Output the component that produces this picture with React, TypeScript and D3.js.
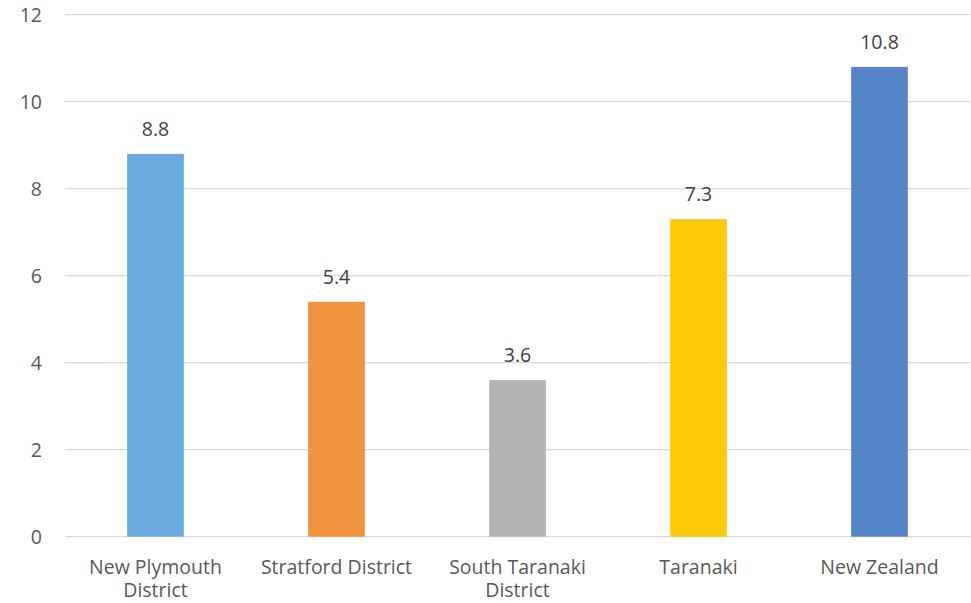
import React, { useEffect, useRef } from 'react';
import * as d3 from 'd3';

// chart data
const categories = [
  'New Plymouth District',
  'Stratford District',
  'South Taranaki District',
  'Taranaki',
  'New Zealand',
];
const values = [8.8, 5.4, 3.6, 7.3, 10.8];
const barColors = ['#6AAADE', '#F39340', '#B3B3B3', '#FEC80B', '#5585C6'];
const yTicks = [0, 2, 4, 6, 8, 10, 12];

const width = 971;
const height = 603;
const margin = { top: 14.7, right: 1, bottom: 66.3, left: 65 };
const font = '"Open Sans", sans-serif';
const textColor = '#595959';

const App = () => {
  const ref = useRef<SVGSVGElement>(null);

  useEffect(() => {
    const svg = d3.select(ref.current);
    svg.selectAll('*').remove();

    const x = d3.scaleBand()
      .domain(categories)
      .range([margin.left, width - margin.right])
      .paddingInner(0.687)
      .paddingOuter(0.3435);

    const y = d3.scaleLinear()
      .domain([0, 12])
      .range([height - margin.bottom, margin.top]);

    // gridlines
    svg.append('g')
      .selectAll('line')
      .data(yTicks)
      .enter().append('line')
      .attr('x1', margin.left)
      .attr('x2', width - margin.right)
      .attr('y1', d => y(d))
      .attr('y2', d => y(d))
      .attr('stroke', '#D9D9D9')
      .attr('stroke-width', 1.3);

    // y tick labels
    svg.append('g')
      .selectAll('text')
      .data(yTicks)
      .enter().append('text')
      .attr('x', 42)
      .attr('y', d => y(d))
      .attr('dy', '0.36em')
      .attr('text-anchor', 'end')
      .style('font-family', font)
      .style('font-size', '19.5px')
      .style('fill', textColor)
      .text(d => d);

    // bars
    svg.append('g')
      .selectAll('rect')
      .data(values)
      .enter().append('rect')
      .attr('x', (d, i) => x(categories[i])!)
      .attr('width', x.bandwidth())
      .attr('y', d => y(d))
      .attr('height', d => y(0) - y(d))
      .attr('fill', (d, i) => barColors[i]);

    // value labels
    svg.append('g')
      .selectAll('text')
      .data(values)
      .enter().append('text')
      .attr('x', (d, i) => x(categories[i])! + x.bandwidth() / 2)
      .attr('y', d => y(d) - 18)
      .attr('text-anchor', 'middle')
      .style('font-family', font)
      .style('font-size', '19.5px')
      .style('fill', '#404040')
      .text(d => d.toFixed(1));

    // category labels, wrapped to the band step
    const maxW = x.step() - 8;
    const labels = svg.append('g')
      .selectAll('text')
      .data(categories)
      .enter().append('text')
      .attr('x', d => x(d)! + x.bandwidth() / 2)
      .attr('y', height - margin.bottom + 37)
      .attr('text-anchor', 'middle')
      .style('font-family', font)
      .style('font-size', '19.5px')
      .style('fill', textColor);

    labels.each(function (d) {
      const text = d3.select(this);
      const words = d.split(' ');
      let line: string[] = [];
      let tspan = text.append('tspan').attr('x', text.attr('x')).attr('dy', 0);
      words.forEach(w => {
        line.push(w);
        tspan.text(line.join(' '));
        if ((tspan.node() as SVGTSpanElement).getComputedTextLength() > maxW && line.length > 1) {
          line.pop();
          tspan.text(line.join(' '));
          line = [w];
          tspan = text.append('tspan').attr('x', text.attr('x')).attr('dy', 23.5).text(w);
        }
      });
    });
  }, []);

  return (
    <svg ref={ref} width={width} height={height}
      style={{ position: 'absolute', left: 0, top: 0, background: '#fff' }} />
  );
};

export default App;
